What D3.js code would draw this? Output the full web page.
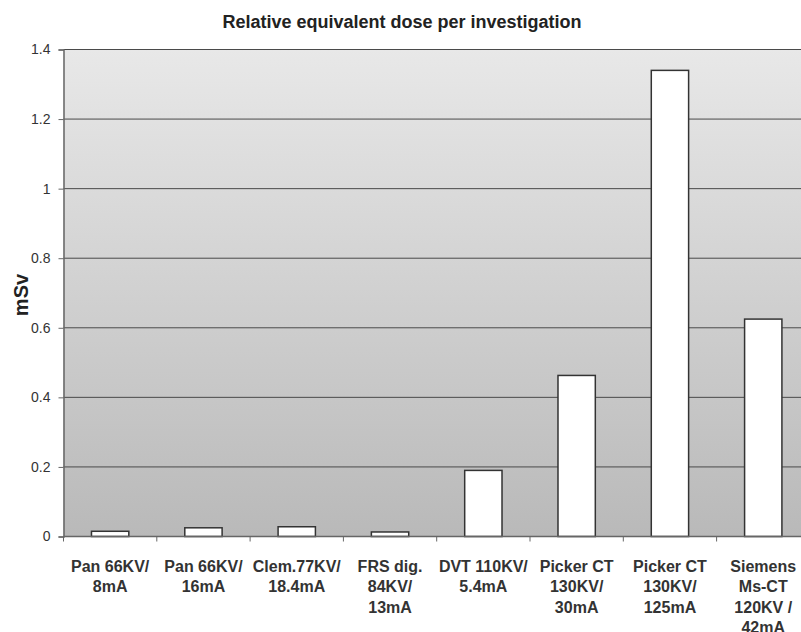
<!DOCTYPE html>
<html>
<head>
<meta charset="utf-8">
<script src="https://cdn.jsdelivr.net/npm/d3@7"></script>
<style>
    body { margin: 0; background: #fff; }
    svg { display: block; font-family: Arial, "Liberation Sans", sans-serif; }
</style>
</head>
<body>
<div id="chart"></div>
<script>
// Dados do gráfico
const categories = [
    ["Pan 66KV/", "8mA"],
    ["Pan 66KV/", "16mA"],
    ["Clem.77KV/", "18.4mA"],
    ["FRS dig.", "84KV/", "13mA"],
    ["DVT 110KV/", "5.4mA"],
    ["Picker CT", "130KV/", "30mA"],
    ["Picker CT", "130KV/", "125mA"],
    ["Siemens", "Ms-CT", "120KV /", "42mA"]
];
const doses = [0.015, 0.025, 0.028, 0.013, 0.19, 0.463, 1.34, 0.625];
const yTicks = [0, 0.2, 0.4, 0.6, 0.8, 1, 1.2, 1.4];
const chartTitle = "Relative equivalent dose per investigation";
const yTitle = "mSv";

const width = 801, height = 632;
const margin = { top: 49.5, left: 63.5, bottom: 95.5 };
const plotW = 8 * 93.3; // a área do gráfico passa da borda direita
const plotH = height - margin.top - margin.bottom;

const svg = d3.select('#chart').append('svg')
    .attr('width', width)
    .attr('height', height);

// fundo em degradê
const grad = svg.append('defs').append('linearGradient')
    .attr('id', 'bg').attr('x1', 0).attr('y1', 0).attr('x2', 0).attr('y2', 1);
grad.append('stop').attr('offset', '0%').attr('stop-color', '#e8e8e8');
grad.append('stop').attr('offset', '100%').attr('stop-color', '#b9b9b9');

const g = svg.append('g').attr('transform', `translate(${margin.left},${margin.top})`);

const x = d3.scaleBand()
    .domain(d3.range(categories.length))
    .range([0, plotW])
    .paddingInner(0.6)
    .paddingOuter(0.3);

const y = d3.scaleLinear().domain([0, 1.4]).range([plotH, 0]);

g.append('rect')
    .attr('width', plotW)
    .attr('height', plotH)
    .attr('fill', 'url(#bg)');

// linhas de grade
g.selectAll('.grid')
    .data(yTicks.filter(d => d > 0))
    .enter().append('line')
    .attr('x1', 0).attr('x2', plotW)
    .attr('y1', d => y(d)).attr('y2', d => y(d))
    .attr('stroke', '#4a4a4a')
    .attr('stroke-width', 1);

// barras
g.selectAll('.bar')
    .data(doses)
    .enter().append('rect')
    .attr('x', (d, i) => x(i))
    .attr('y', d => y(d))
    .attr('width', x.bandwidth())
    .attr('height', d => plotH - y(d))
    .attr('fill', '#fff')
    .attr('stroke', '#333')
    .attr('stroke-width', 1.5);

// eixo Y
const yAxis = g.append('g')
    .call(d3.axisLeft(y).tickValues(yTicks).tickFormat(d3.format('~g')).tickSize(5).tickPadding(8));
yAxis.select('.domain').attr('stroke', '#666').attr('stroke-width', 1.5);
yAxis.selectAll('line').attr('stroke', '#666');
yAxis.selectAll('text').attr('font-size', 14).attr('fill', '#333');

// eixo X com ticks nas divisões das categorias
const step = x.step();
const xb = g.append('g').attr('transform', `translate(0,${plotH})`);
xb.append('line')
    .attr('x1', 0).attr('x2', plotW)
    .attr('stroke', '#666').attr('stroke-width', 1.5);
xb.selectAll('.tick')
    .data(d3.range(categories.length + 1))
    .enter().append('line')
    .attr('x1', i => i * step).attr('x2', i => i * step)
    .attr('y1', 0).attr('y2', 5)
    .attr('stroke', '#666');

xb.selectAll('.label')
    .data(categories)
    .enter().append('text')
    .attr('text-anchor', 'middle')
    .attr('font-size', 16)
    .attr('font-weight', 'bold')
    .attr('fill', '#333')
    .attr('transform', (d, i) => `translate(${x(i) + x.bandwidth() / 2},35)`)
    .selectAll('tspan')
    .data(d => d)
    .enter().append('tspan')
    .attr('x', 0)
    .attr('dy', (d, i) => i === 0 ? 0 : 20.5)
    .text(d => d);

// títulos
svg.append('text')
    .attr('x', 402).attr('y', 28)
    .attr('text-anchor', 'middle')
    .attr('font-size', 18)
    .attr('font-weight', 'bold')
    .attr('fill', '#222')
    .text(chartTitle);

svg.append('text')
    .attr('transform', 'translate(28,295) rotate(-90)')
    .attr('text-anchor', 'middle')
    .attr('font-size', 20)
    .attr('font-weight', 'bold')
    .attr('fill', '#222')
    .text(yTitle);
</script>
</body>
</html>
